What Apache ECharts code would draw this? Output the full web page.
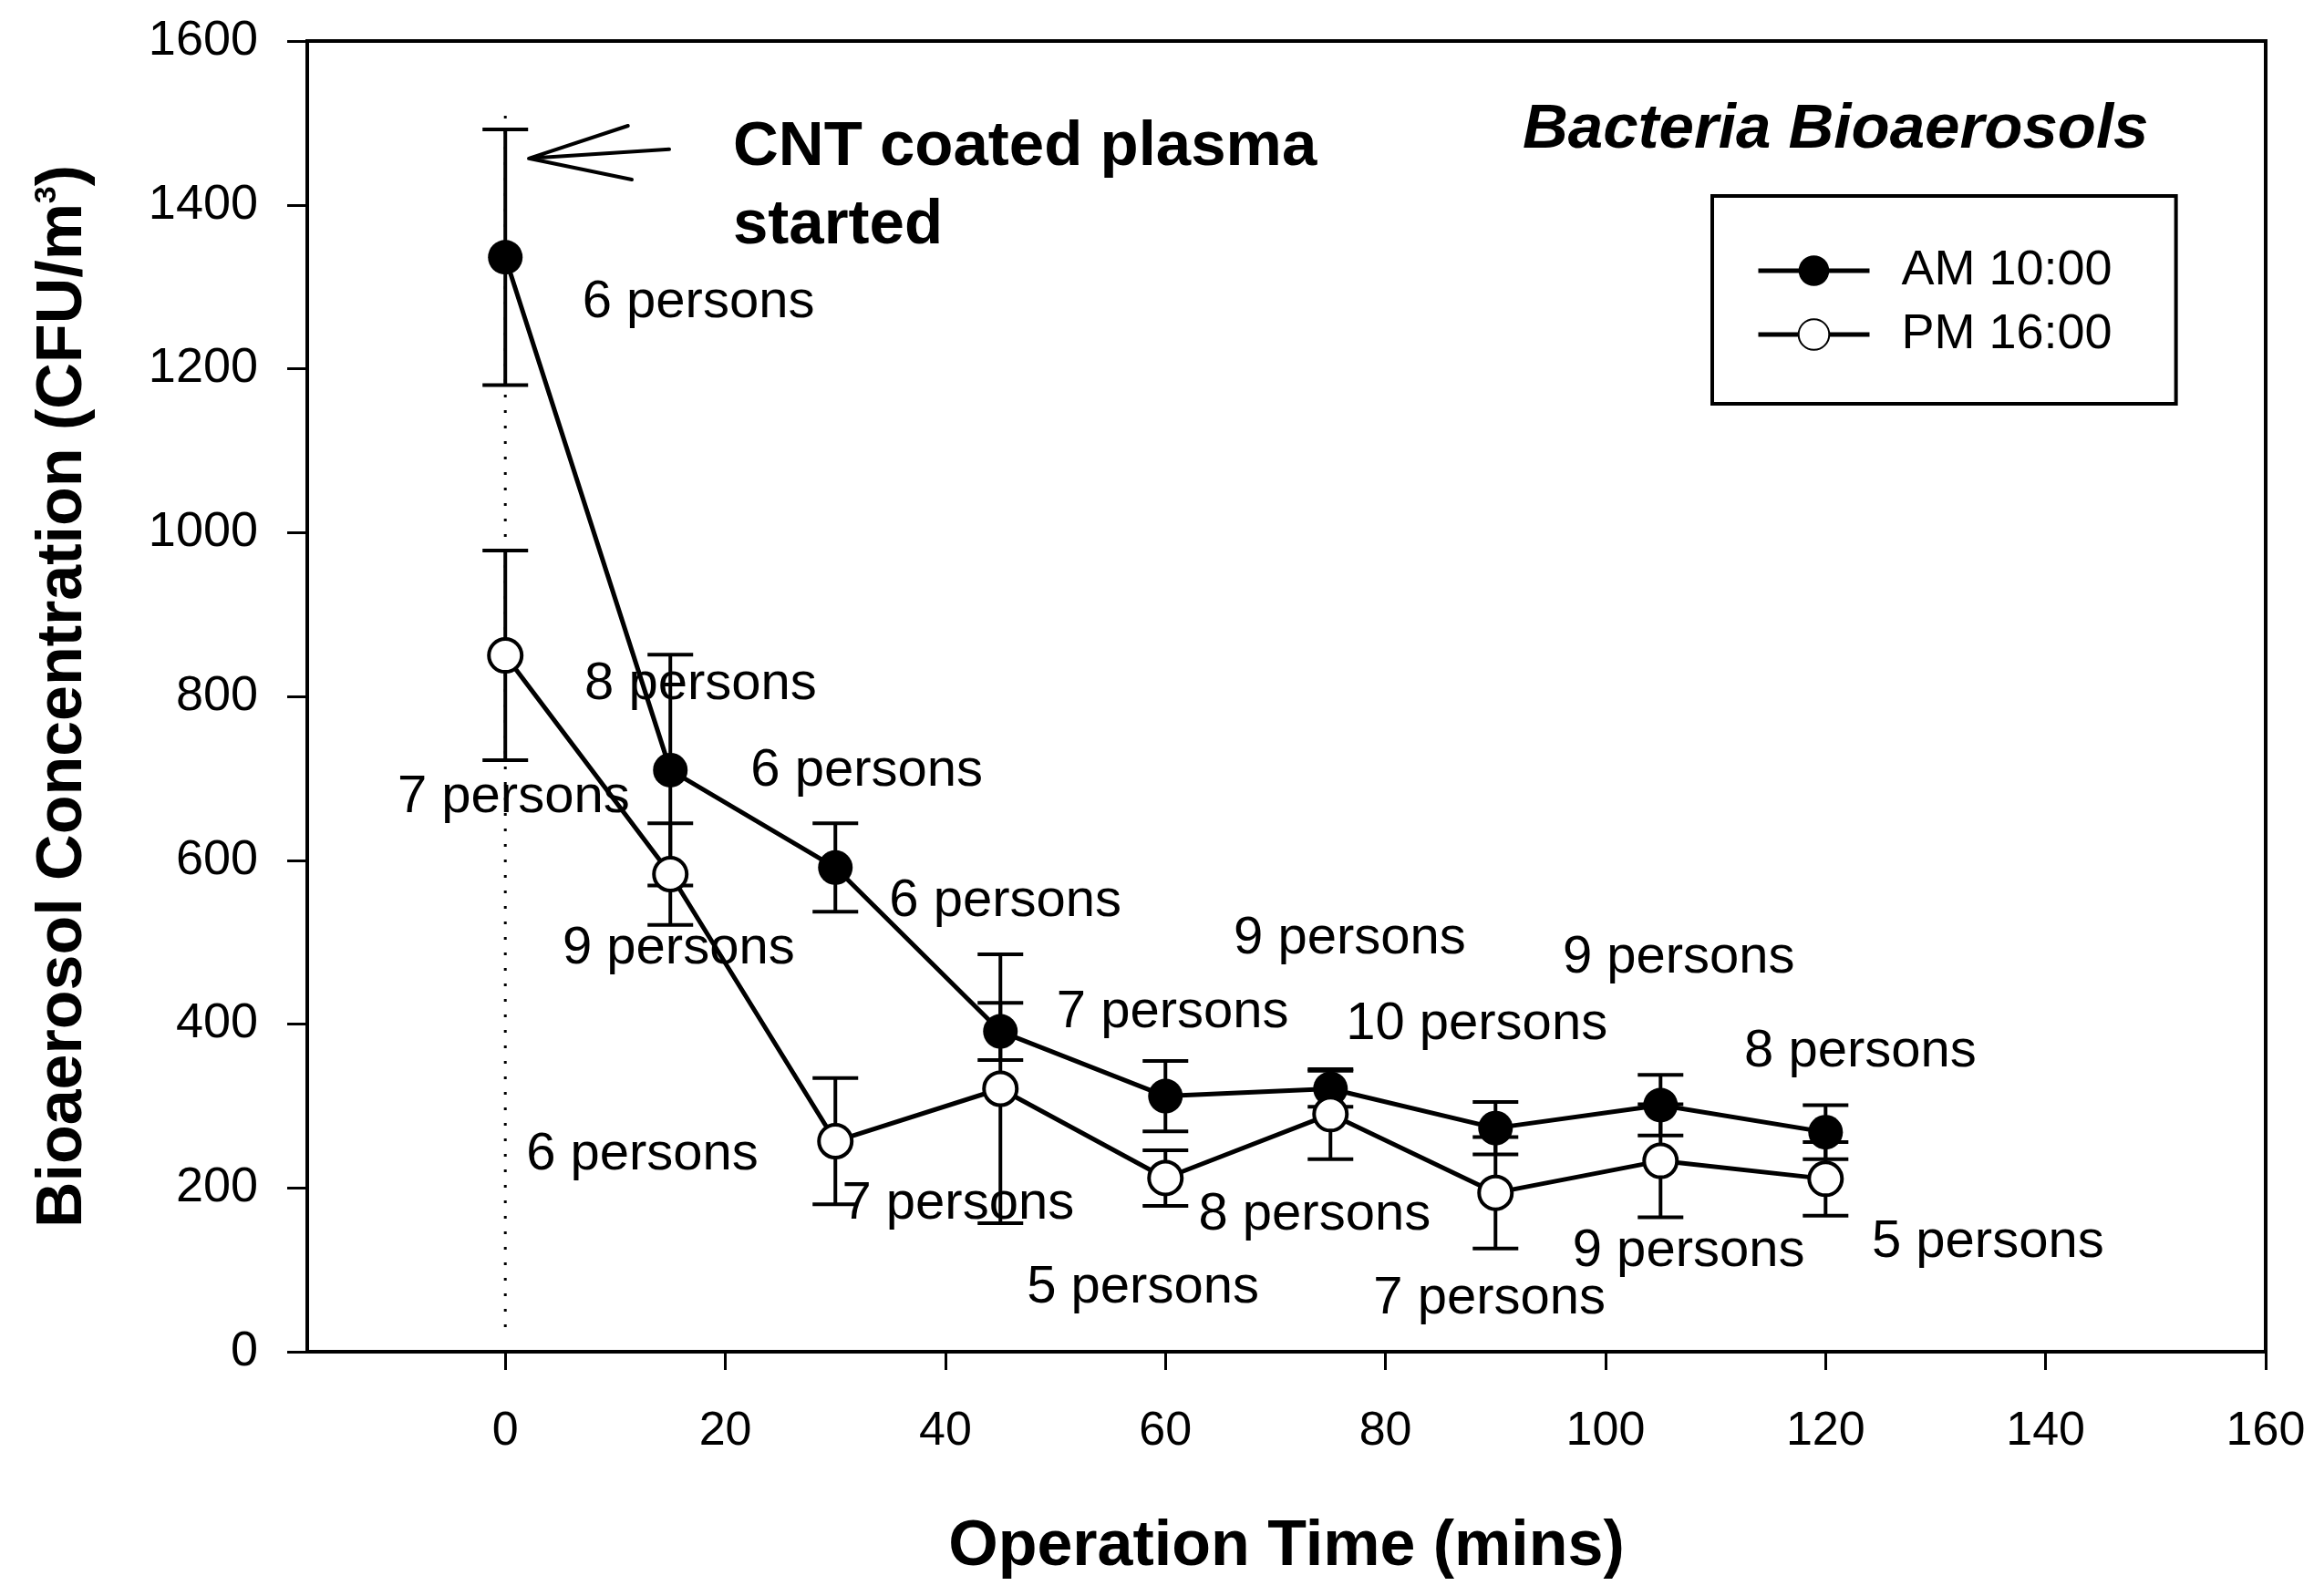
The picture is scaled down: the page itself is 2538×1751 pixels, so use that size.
<!DOCTYPE html>
<html><head><meta charset="utf-8">
<script src="https://cdn.jsdelivr.net/npm/echarts@6/dist/echarts.min.js"></script>
<style>html,body{margin:0;padding:0;background:#fff}#c{width:2538px;height:1751px}</style>
</head><body><div id="c"></div>
<script>
// ---- data ----
const times = [0, 15, 30, 45, 60, 75, 90, 105, 120];
const amValues = [1336, 710, 591, 391, 312, 321, 273, 301, 268];
const amErrors = [156, 141, 54, 35, 43, 22, 32, 37, 33];
const pmValues = [850, 583, 257, 321, 212, 290, 194, 233, 211];
const pmErrors = [128, 62, 77, 164, 34, 55, 68, 69, 45];
const xTickValues = [0, 20, 40, 60, 80, 100, 120, 140, 160];
const seriesNames = ['AM 10:00', 'PM 16:00'];

// occupancy annotations (text, anchor in data units: left x, middle y)
const personTexts = ['6 persons','8 persons','7 persons','6 persons','9 persons','6 persons','7 persons','6 persons','7 persons','9 persons','10 persons','8 persons','5 persons','9 persons','7 persons','9 persons','8 persons','5 persons'];
const personX = [7.0, 7.2, -9.8, 22.3, 5.2, 34.9, 50.1, 1.9, 30.6, 66.2, 76.4, 63.0, 47.4, 96.1, 78.9, 97.0, 112.6, 124.2];
const personY = [1281, 814, 677, 709, 492, 550, 414, 240, 180, 504, 399, 167, 78, 481, 64, 122, 366, 134];

// start marker (dotted vertical line) and arrow, in data units
const startLineX = [0, 0];
const startLineY = [30, 1520];
const arrowX = [14.9, 2.14, 11.15, 2.14, 11.5];
const arrowY = [1467.8, 1456.7, 1496.5, 1456.7, 1430.8];

// ---- chart ----
const FONT = '"Liberation Sans", Arial, sans-serif';
const chart = echarts.init(document.getElementById('c'), null, {renderer: 'canvas'});

function errData(vals, errs) {
  return times.map((t, i) => [t, vals[i] - errs[i], vals[i] + errs[i]]);
}
function errRender(params, api) {
  const x = api.value(0);
  const lo = api.coord([x, api.value(1)]);
  const hi = api.coord([x, api.value(2)]);
  const hw = 25;
  const st = {stroke: '#000', lineWidth: 4};
  return {type: 'group', children: [
    {type: 'line', shape: {x1: lo[0], y1: lo[1], x2: hi[0], y2: hi[1]}, style: st},
    {type: 'line', shape: {x1: lo[0] - hw, y1: lo[1], x2: lo[0] + hw, y2: lo[1]}, style: st},
    {type: 'line', shape: {x1: hi[0] - hw, y1: hi[1], x2: hi[0] + hw, y2: hi[1]}, style: st}
  ]};
}

const option = {
  animation: false,
  backgroundColor: '#fff',
  grid: {left: 337, top: 45, right: 53, bottom: 268, show: true, borderColor: '#000', borderWidth: 4, backgroundColor: 'transparent'},
  xAxis: {
    type: 'value', min: -18, max: 160,
    axisLine: {onZero: false, lineStyle: {color: '#000', width: 4}},
    axisTick: {show: true, customValues: xTickValues, length: 20, lineStyle: {color: '#000', width: 3}},
    axisLabel: {customValues: xTickValues, fontSize: 52, color: '#000', fontFamily: FONT, margin: 62},
    splitLine: {show: false},
    name: 'Operation Time (mins)', nameLocation: 'middle', nameGap: 180,
    nameTextStyle: {fontSize: 70, fontWeight: 'bold', color: '#000', fontFamily: FONT}
  },
  yAxis: {
    type: 'value', min: 0, max: 1600, interval: 200,
    axisLine: {show: true, onZero: false, lineStyle: {color: '#000', width: 4}},
    axisTick: {show: true, length: 22, lineStyle: {color: '#000', width: 3}},
    axisLabel: {fontSize: 54, color: '#000', fontFamily: FONT, margin: 54, formatter: v => String(v)},
    splitLine: {show: false},
    name: 'Bioaerosol Concentration (CFU/m{sup|3})', nameLocation: 'middle', nameGap: 232,
    nameTextStyle: {fontSize: 70, fontWeight: 'bold', color: '#000', fontFamily: FONT,
      rich: {sup: {fontSize: 34, fontWeight: 'bold', color: '#000', fontFamily: FONT, verticalAlign: 'top'}}}
  },
  legend: {
    data: seriesNames, orient: 'vertical', left: 1878, top: 215,
    padding: [55, 70, 49, 48], itemWidth: 122, itemHeight: 42, itemGap: 16,
    borderColor: '#000', borderWidth: 4, backgroundColor: '#fff', selectedMode: false,
    lineStyle: {width: 5},
    textStyle: {fontSize: 54, lineHeight: 54, color: '#000', fontFamily: FONT, padding: [0, 0, 0, 30]}
  },
  graphic: [
    {type: 'text', left: 804, top: 119, z: 50, style: {text: 'CNT coated plasma\nstarted', font: 'bold 69px ' + FONT, fill: '#000', lineHeight: 86}},
    {type: 'text', left: 1670, top: 108, z: 50, style: {text: 'Bacteria Bioaerosols', font: 'italic bold 69px ' + FONT, fill: '#000'}}
  ],
  series: [
    {type: 'line', name: 'start', data: startLineX.map((x, i) => [x, startLineY[i]]), symbol: 'none', silent: true, z: 1,
      lineStyle: {color: '#000', width: 3, type: [3, 14]}},
    {type: 'line', name: 'arrow', data: arrowX.map((x, i) => [x, arrowY[i]]), symbol: 'none', silent: true, z: 1,
      lineStyle: {color: '#000', width: 4, join: 'round', cap: 'round'}},
    {type: 'custom', name: 'amErr', data: errData(amValues, amErrors), renderItem: errRender, z: 2, silent: true},
    {type: 'custom', name: 'pmErr', data: errData(pmValues, pmErrors), renderItem: errRender, z: 2, silent: true},
    {type: 'line', name: seriesNames[0], data: times.map((t, i) => [t, amValues[i]]), z: 3,
      symbol: 'circle', symbolSize: 38, showAllSymbol: true,
      lineStyle: {color: '#000', width: 5}, itemStyle: {color: '#000', borderColor: '#000', borderWidth: 0}},
    {type: 'line', name: seriesNames[1], data: times.map((t, i) => [t, pmValues[i]]), z: 4,
      symbol: 'circle', symbolSize: 36, showAllSymbol: true,
      lineStyle: {color: '#000', width: 5}, itemStyle: {color: '#fff', borderColor: '#000', borderWidth: 4}},
    {type: 'scatter', name: 'persons', silent: true, z: 5, symbolSize: 0,
      itemStyle: {opacity: 1},
      data: personX.map((x, i) => ({value: [x, personY[i]], label: {formatter: personTexts[i]}})),
      label: {show: true, position: 'right', distance: 0, fontSize: 58, color: '#000', opacity: 1, fontFamily: FONT}}
  ]
};
chart.setOption(option);
</script>
</body></html>
